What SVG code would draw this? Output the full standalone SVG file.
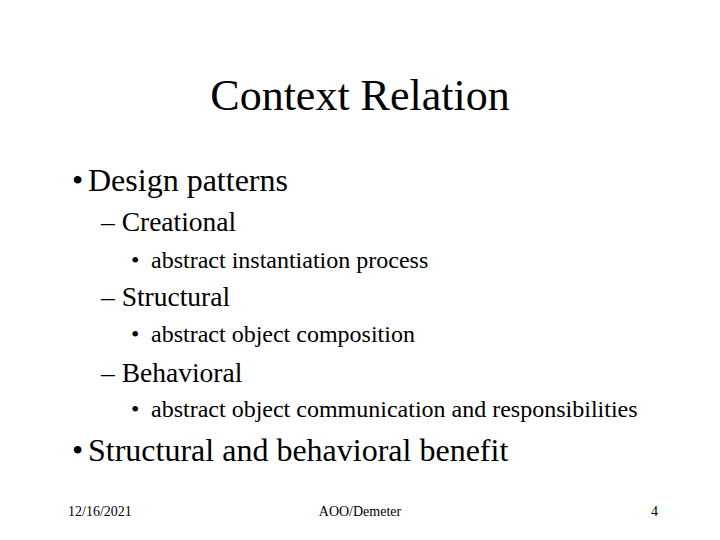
<svg xmlns="http://www.w3.org/2000/svg" width="720" height="540" viewBox="0 0 720 540">
<style>
text{font-family:"Liberation Serif","Times New Roman",serif;fill:#000}
.t{font-size:44px}
.l1{font-size:32px}
.l2{font-size:27.5px}
.l3{font-size:24px}
.f{font-size:14px}
</style>
<rect width="720" height="540" fill="#fff"/>
<g id="title"><text class="t" x="360" y="110" text-anchor="middle">Context Relation</text></g>
<g id="body">
<text class="l1" x="72" y="191">•</text><text class="l1" x="88" y="191">Design patterns</text>
<text class="l2" x="101" y="231">– Creational</text>
<text class="l3" x="131" y="268">•</text><text class="l3" x="151" y="268">abstract instantiation process</text>
<text class="l2" x="101" y="306">– Structural</text>
<text class="l3" x="131" y="342">•</text><text class="l3" x="151" y="342">abstract object composition</text>
<text class="l2" x="101" y="382">– Behavioral</text>
<text class="l3" x="131" y="417">•</text><text class="l3" x="151" y="417">abstract object communication and responsibilities</text>
<text class="l1" x="72" y="461">•</text><text class="l1" x="88" y="461">Structural and behavioral benefit</text>
</g>
<g id="footer">
<text class="f" x="68" y="516">12/16/2021</text>
<text class="f" x="360" y="516" text-anchor="middle">AOO/Demeter</text>
<text class="f" x="658" y="516" text-anchor="end">4</text>
</g>
</svg>
